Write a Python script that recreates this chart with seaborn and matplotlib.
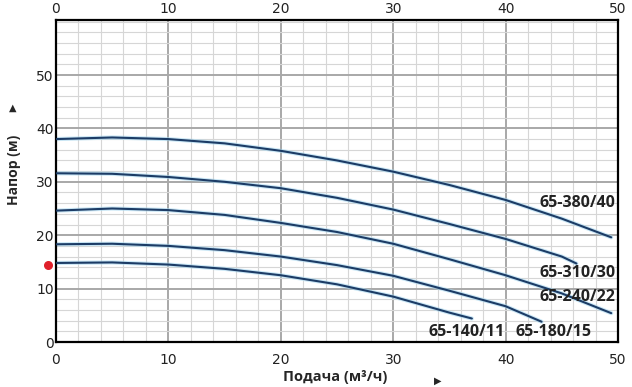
import numpy as np
import pandas as pd
import matplotlib
matplotlib.use("Agg")
import matplotlib.pyplot as plt
from matplotlib.ticker import MultipleLocator
import seaborn as sns

# ---- data ----
models = ["65-380/40", "65-310/30", "65-240/22", "65-180/15", "65-140/11"]
x_380 = [0, 5, 10, 15, 20, 25, 30, 35, 40, 45, 49.4]
h_380 = [38.0, 38.3, 38.0, 37.2, 35.8, 34.0, 31.9, 29.4, 26.6, 23.1, 19.6]
x_310 = [0, 5, 10, 15, 20, 25, 30, 35, 40, 45, 46.3]
h_310 = [31.6, 31.5, 30.9, 30.0, 28.8, 27.0, 24.8, 22.1, 19.3, 16.0, 14.7]
x_240 = [0, 5, 10, 15, 20, 25, 30, 35, 40, 45, 49.4]
h_240 = [24.6, 25.0, 24.7, 23.8, 22.3, 20.6, 18.4, 15.5, 12.5, 9.1, 5.4]
x_180 = [0, 5, 10, 15, 20, 25, 30, 35, 40, 43.2]
h_180 = [18.3, 18.4, 18.0, 17.2, 16.0, 14.4, 12.4, 9.6, 6.7, 3.8]
x_140 = [0, 5, 10, 15, 20, 25, 30, 35, 37.0]
h_140 = [14.8, 14.9, 14.5, 13.7, 12.5, 10.8, 8.5, 5.5, 4.4]

xs = [x_380, x_310, x_240, x_180, x_140]
hs = [h_380, h_310, h_240, h_180, h_140]

label_x = [49.8, 49.8, 49.8, 40.9, 33.1]
label_y = [26.0, 12.9, 8.4, 1.9, 1.9]
label_ha = ["right", "right", "right", "left", "left"]

marker_x = [-0.75]
marker_y = [14.4]

x_ticks = [0, 10, 20, 30, 40, 50]
y_ticks = [0, 10, 20, 30, 40, 50]

frames = []
for m, x, h in zip(models, xs, hs):
    frames.append(pd.DataFrame({"model": m, "q": x, "h": h}))
df = pd.concat(frames, ignore_index=True)

# ---- figure ----
sns.set_theme(style="white")
plt.rcParams["font.family"] = ["DejaVu Sans"]

fig = plt.figure(figsize=(6.32, 3.87), dpi=100)
ax = fig.add_axes([56 / 632, 1 - 342 / 387, (618 - 56) / 632, (342 - 20) / 387])
ax.set_facecolor("white")

ax.set_xlim(0, 50)
ax.set_ylim(0, 60.3)
ax.xaxis.set_major_locator(MultipleLocator(10))
ax.xaxis.set_minor_locator(MultipleLocator(2))
ax.yaxis.set_major_locator(MultipleLocator(10))
ax.yaxis.set_minor_locator(MultipleLocator(2))
ax.grid(which="minor", color="#d6d6d6", linewidth=0.8, zorder=0)
ax.grid(which="major", color="#a8a8a8", linewidth=1.4, zorder=0)
ax.set_axisbelow(True)

palette = {m: "#a8d8f0" for m in models}
sns.lineplot(data=df, x="q", y="h", hue="model", units="model", estimator=None,
             palette=palette, linewidth=3.0, alpha=0.6, legend=False, ax=ax,
             sort=False, zorder=2)
palette2 = {m: "#1c3c66" for m in models}
sns.lineplot(data=df, x="q", y="h", hue="model", units="model", estimator=None,
             palette=palette2, linewidth=1.5, legend=False, ax=ax,
             sort=False, zorder=3)

for m, lx, ly, ha in zip(models, label_x, label_y, label_ha):
    ax.text(lx, ly, m, ha=ha, va="center", fontsize=11.5, fontweight="bold",
            family=["Open Sans", "DejaVu Sans"], color="#222222", zorder=4)

ax.scatter(marker_x, marker_y, s=30, color="#e0202a", zorder=5, clip_on=False)

for sp in ax.spines.values():
    sp.set_visible(True)
    sp.set_color("black")
    sp.set_linewidth(1.6)

ax.set_xticks(x_ticks)
ax.set_yticks(y_ticks)
ax.set_xticklabels([str(t) for t in x_ticks])
ax.set_yticklabels([str(t) for t in y_ticks])
ax.tick_params(axis="both", which="both", length=0, labelsize=10, colors="#222222")
ax.tick_params(axis="x", pad=8)
ax.tick_params(axis="y", pad=1.5)
ax.set_xlabel("")
ax.set_ylabel("")

sec = ax.secondary_xaxis("top")
sec.set_xticks(x_ticks)
sec.set_xticklabels([str(t) for t in x_ticks])
sec.tick_params(length=0, pad=3, labelsize=10, colors="#222222")
sec.spines["top"].set_visible(False)

fig.text(335 / 632, 1 - 377 / 387, "Подача (м³/ч)", ha="center", va="center",
         fontsize=10.5, fontweight="bold", family=["Open Sans", "DejaVu Sans"])
fig.text(438 / 632, 1 - 381 / 387, "▶", ha="center", va="center", fontsize=7,
         family=["DejaVu Sans"])
fig.text(14 / 632, 1 - 170 / 387, "Напор (м)", ha="center", va="center",
         rotation=90, fontsize=10, fontweight="bold", family=["Open Sans", "DejaVu Sans"])
fig.text(12.5 / 632, 1 - 108 / 387, "▲", ha="center", va="center", fontsize=7,
         family=["DejaVu Sans"])

fig.savefig("out.png", dpi=100, facecolor="white")
